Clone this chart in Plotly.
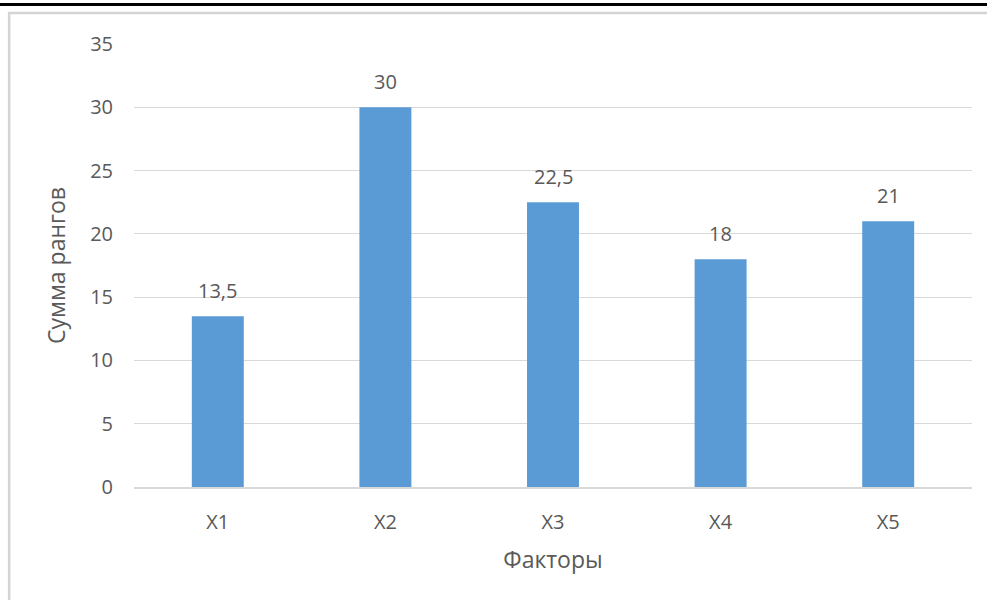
import plotly.graph_objects as go

categories = ["X1", "X2", "X3", "X4", "X5"]
values = [13.5, 30, 22.5, 18, 21]
labels = ["13,5", "30", "22,5", "18", "21"]
y_ticks = [0, 5, 10, 15, 20, 25, 30, 35]

FONT = "Open Sans"
TXT = "#595959"

fig = go.Figure()
fig.add_trace(go.Bar(x=categories, y=values, marker=dict(color="#5B9BD5", line=dict(width=0)),
                     hoverinfo="skip"))

for c, v, t in zip(categories, values, labels):
    fig.add_annotation(x=c, y=v, text=t, showarrow=False, yanchor="bottom", yshift=10,
                       font=dict(family=FONT, size=20, color=TXT))

# plot area: x 134..972, y 44..487 (px); shapes in paper units relative to it
fig.add_shape(type="line", xref="paper", yref="paper", x0=-0.2, x1=1.2, y0=1.089, y1=1.089,
              line=dict(color="black", width=3))
fig.add_shape(type="rect", xref="paper", yref="paper", x0=-0.149, x1=1.2, y0=-0.4, y1=1.070,
              line=dict(color="#d4d4d4", width=2.5), fillcolor="rgba(0,0,0,0)")

fig.update_layout(
    width=987, height=600,
    margin=dict(l=134, r=15, t=44, b=113),
    paper_bgcolor="white", plot_bgcolor="white",
    bargap=0.69,
    showlegend=False,
    font=dict(family=FONT, color=TXT),
    xaxis=dict(
        title=dict(text="Факторы", font=dict(family=FONT, size=23, color=TXT), standoff=18),
        tickfont=dict(family=FONT, size=20, color=TXT),
        showline=True, linecolor="#d9d9d9", linewidth=1.5,
        ticks="", ticklabelstandoff=16,
    ),
    yaxis=dict(
        title=dict(text="Сумма рангов", font=dict(family=FONT, size=23, color=TXT), standoff=18),
        tickfont=dict(family=FONT, size=20, color=TXT),
        range=[0, 35], tickvals=y_ticks,
        showgrid=True, gridcolor="#d9d9d9", gridwidth=1.2,
        zeroline=False, ticks="", ticklabelstandoff=20,
    ),
)

fig.write_html("out.html",
               config={"displayModeBar": False},
               post_script="document.body.style.margin='0';document.body.style.overflow='hidden';")
